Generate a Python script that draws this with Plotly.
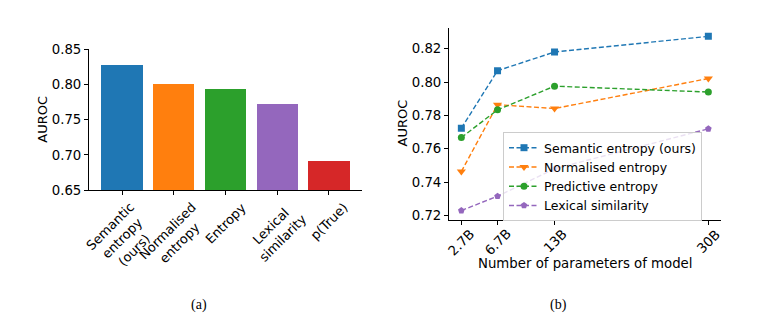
import plotly.graph_objects as go

# ---- data ----
methods = ["Semantic entropy (ours)", "Normalised entropy", "Entropy", "Lexical similarity", "p(True)"]
method_labels = ["Semantic<br>entropy<br>(ours)", "Normalised<br>entropy", "Entropy", "Lexical<br>similarity", "p(True)"]
auroc_bars = [0.827, 0.801, 0.793, 0.772, 0.691]
bar_colors = ["#1f77b4", "#ff7f0e", "#2ca02c", "#9467bd", "#d62728"]

model_sizes = [2.7, 6.7, 13, 30]
size_labels = ["2.7B", "6.7B", "13B", "30B"]
semantic_entropy = [0.7723, 0.8068, 0.8180, 0.8274]
normalised_entropy = [0.7463, 0.7864, 0.7841, 0.8021]
predictive_entropy = [0.7667, 0.7833, 0.7975, 0.7940]
lexical_similarity = [0.7229, 0.7315, 0.7480, 0.7719]

W, H = 758, 331
FONT = "DejaVu Sans"
FS = 13.3

fig = go.Figure()

# ---- panel (a): bars ----
fig.add_trace(go.Bar(
    x=methods, y=auroc_bars, marker=dict(color=bar_colors, line=dict(width=0)),
    width=0.8, xaxis="x", yaxis="y", showlegend=False,
))

# ---- panel (b): lines ----
series = [
    ("Semantic entropy (ours)", semantic_entropy, "#1f77b4", "square", 7),
    ("Normalised entropy", normalised_entropy, "#ff7f0e", "triangle-down", 8),
    ("Predictive entropy", predictive_entropy, "#2ca02c", "circle", 7),
    ("Lexical similarity", lexical_similarity, "#9467bd", "pentagon", 7),
]
for name, vals, col, sym, sz in series:
    fig.add_trace(go.Scatter(
        x=model_sizes, y=vals, name=name, mode="lines+markers",
        line=dict(color=col, width=1.4, dash="5px,2.5px"),
        marker=dict(symbol=sym, size=sz, color=col, line=dict(width=0)),
        xaxis="x2", yaxis="y2",
    ))

def px(x):
    return x / W

def py(y):
    return 1 - y / H

axis_common = dict(
    showline=True, linecolor="black", linewidth=1, mirror=False,
    showgrid=False, zeroline=False, ticks="outside", ticklen=4,
    tickwidth=1, tickcolor="black",
)

fig.update_layout(
    width=W, height=H, margin=dict(l=0, r=0, t=0, b=0),
    paper_bgcolor="white", plot_bgcolor="white",
    font=dict(family=FONT, color="black"),
    xaxis=dict(domain=[px(89), px(362)], anchor="y", type="category",
               range=[-0.64, 4.64], showticklabels=False, **axis_common),
    yaxis=dict(domain=[py(192), py(44)], anchor="x", range=[0.65, 0.85],
               tickvals=[0.65, 0.70, 0.75, 0.80, 0.85], tickformat=".2f",
               tickfont=dict(size=FS, family=FONT), **axis_common),
    xaxis2=dict(domain=[px(449), px(720.7)], anchor="y2",
                range=[1.335, 31.365], tickvals=model_sizes,
                showticklabels=False, **axis_common),
    yaxis2=dict(domain=[py(223), py(22)], anchor="x2", range=[0.7173, 0.8324],
                tickvals=[0.72, 0.74, 0.76, 0.78, 0.80, 0.82], tickformat=".2f",
                tickfont=dict(size=FS, family=FONT), **axis_common),
    legend=dict(
        x=px(503), y=py(131), xanchor="left", yanchor="top",
        bgcolor="rgba(255,255,255,0.8)", bordercolor="#cccccc", borderwidth=1,
        font=dict(size=12.5, family=FONT), itemwidth=30, tracegroupgap=0,
    ),
    bargap=0,
)

annotations = []
# rotated category labels for panel (a)
for m, lab in zip(methods, method_labels):
    annotations.append(dict(
        x=m, y=py(199), xref="x", yref="paper", text=lab, showarrow=False,
        textangle=-45, xanchor="center", yanchor="top", align="center",
        font=dict(size=13, family=FONT),
    ))
# rotated size labels for panel (b)
for s, lab in zip(model_sizes, size_labels):
    annotations.append(dict(
        x=s, y=py(227), xref="x2", yref="paper", text=lab, showarrow=False,
        textangle=-45, xanchor="center", yanchor="top",
        font=dict(size=FS, family=FONT),
    ))
# axis titles
annotations += [
    dict(x=px(43), y=py(118), xref="paper", yref="paper", text="AUROC",
         showarrow=False, textangle=-90, xanchor="center", yanchor="middle",
         font=dict(size=13, family=FONT)),
    dict(x=px(402), y=py(122), xref="paper", yref="paper", text="AUROC",
         showarrow=False, textangle=-90, xanchor="center", yanchor="middle",
         font=dict(size=13, family=FONT)),
    dict(x=px(585), y=py(269), xref="paper", yref="paper",
         text="Number of parameters of model", showarrow=False,
         xanchor="center", yanchor="middle", font=dict(size=FS, family=FONT)),
    dict(x=px(199), y=py(312), xref="paper", yref="paper", text="(a)",
         showarrow=False, xanchor="center", yanchor="middle",
         font=dict(size=14, family="Liberation Serif")),
    dict(x=px(558), y=py(312), xref="paper", yref="paper", text="(b)",
         showarrow=False, xanchor="center", yanchor="middle",
         font=dict(size=14, family="Liberation Serif")),
]
fig.update_layout(annotations=annotations)

fig.write_html("out.html")
